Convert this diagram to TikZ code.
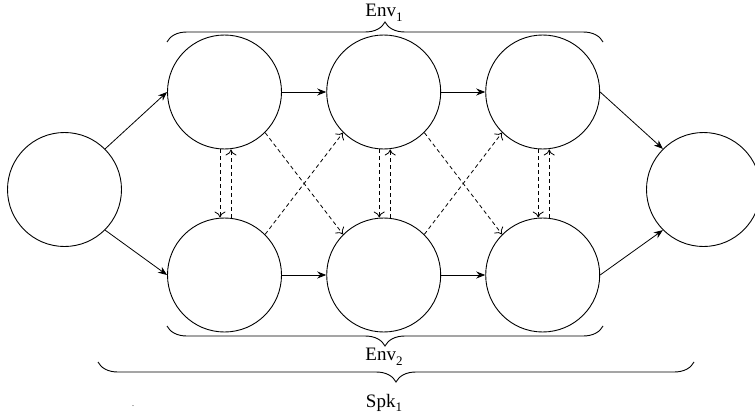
\documentclass[tikz,border=0pt]{standalone}
\usepackage{fontspec}
\setmainfont{Liberation Serif}
\usetikzlibrary{arrows.meta,decorations.pathreplacing}
\newcommand\lowsub[1]{\raisebox{-0.25em}{\fontsize{13}{13}\selectfont #1}}
\begin{document}
\begin{tikzpicture}[x=1pt,y=-1pt,
  state/.style={circle,draw,line width=0.9pt,minimum size=114pt,inner sep=0pt},
  flow/.style={-{Stealth[length=9pt,width=7pt]},line width=0.8pt},
  link/.style={-{To[length=6pt,width=11pt]},dashed,line width=0.8pt,dash pattern=on 4pt off 3pt},
  grp/.style={decorate,decoration={brace,amplitude=20pt},line width=0.9pt},
  lbl/.style={font=\fontsize{19}{22}\selectfont,inner sep=0pt}]
\clip (0,0) rectangle (755,420);
\useasboundingbox (0,0) rectangle (755,420);

% states
\node[state] (L) at (64.5,189.5) {};
\node[state] (T1) at (224.5,92) {};
\node[state] (T2) at (383.7,92) {};
\node[state] (T3) at (542.7,92) {};
\node[state] (B1) at (224.5,275) {};
\node[state] (B2) at (383.7,275) {};
\node[state] (B3) at (542.7,275) {};
\node[state] (R) at (703.5,189.5) {};

% main flow
\draw[flow] (L.north east) -- (T1.west);
\draw[flow] (L.south east) -- (B1.west);
\draw[flow] (T1.east) -- (T2.west);
\draw[flow] (T2.east) -- (T3.west);
\draw[flow] (B1.east) -- (B2.west);
\draw[flow] (B2.east) -- (B3.west);
\draw[flow] (T3.east) -- (R.north west);
\draw[flow] (B3.east) -- (R.south west);

% exchanges between the two rows
\foreach \c in {1,2,3}{
  \draw[link] ([xshift=-4.5pt]T\c.south) -- ([xshift=-4.5pt]B\c.north);
  \draw[link] ([xshift=6.5pt]B\c.north) -- ([xshift=6.5pt]T\c.south);
}
\draw[link] (T1.south east) -- (B2.north west);
\draw[link] (B1.north east) -- (T2.south west);
\draw[link] (T2.south east) -- (B3.north west);
\draw[link] (B2.north east) -- (T3.south west);

% groupings
\draw[grp] (167,42) coordinate (e1a) -- (603,42) coordinate (e1b);
\node[lbl] (env1) at (384,13) {Env\lowsub{1}};
\draw[grp] (603,326) coordinate (e2a) -- (167,326) coordinate (e2b);
\node[lbl] (env2) at (384,357) {Env\lowsub{2}};
\draw[grp] (694,362) coordinate (s1a) -- (98,362) coordinate (s1b);
\node[lbl] (spk1) at (384,403) {Spk\lowsub{1}};
\node[inner sep=0pt,font=\fontsize{8}{8}\selectfont] (dot) at (133,406) {.};
\end{tikzpicture}
\end{document}
